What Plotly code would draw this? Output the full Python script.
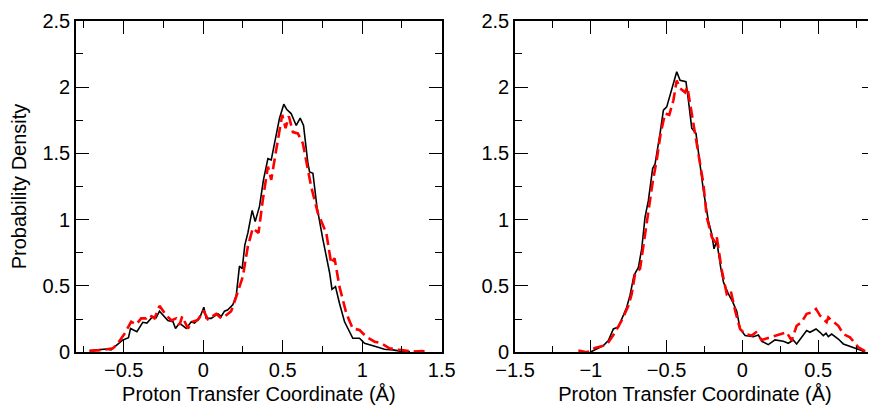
import plotly.graph_objects as go

# Left panel data
left_black_x = [-0.715, -0.61, -0.58, -0.505, -0.47, -0.457, -0.417, -0.38, -0.354, -0.317, -0.296, -0.275,
                -0.222, -0.19, -0.174, -0.149, -0.107, -0.075, -0.055, -0.023, 0.004, 0.019, 0.05, 0.092,
                0.113, 0.134, 0.155, 0.187, 0.208, 0.228, 0.245, 0.262, 0.281, 0.308, 0.327, 0.354, 0.379,
                0.407, 0.428, 0.455, 0.48, 0.507, 0.526, 0.553, 0.585, 0.61, 0.631, 0.658, 0.669, 0.69,
                0.715, 0.753, 0.795, 0.81, 0.832, 0.857, 0.889, 0.941, 0.983, 1.015, 1.057, 1.10, 1.14,
                1.193, 1.256, 1.30]
left_black_y = [0.013, 0.025, 0.018, 0.093, 0.11, 0.18, 0.156, 0.226, 0.22, 0.27, 0.26, 0.31,
                0.24, 0.23, 0.18, 0.22, 0.18, 0.23, 0.22, 0.256, 0.34, 0.256, 0.256, 0.29,
                0.27, 0.31, 0.32, 0.36, 0.43, 0.65, 0.63, 0.81, 0.90, 1.07, 0.985, 1.10, 1.30,
                1.46, 1.45, 1.60, 1.765, 1.87, 1.83, 1.80, 1.71, 1.765, 1.71, 1.43, 1.36, 1.35,
                1.10, 0.85, 0.60, 0.475, 0.495, 0.37, 0.23, 0.106, 0.106, 0.068, 0.055, 0.038, 0.023,
                0.018, 0.005, 0.005]

left_red_x = [-0.715, -0.63, -0.568, -0.537, -0.495, -0.453, -0.421, -0.39, -0.358, -0.338, -0.306, -0.275,
              -0.233, -0.2, -0.17, -0.149, -0.132, -0.096, -0.069, -0.034, 0.002, 0.029, 0.082, 0.113,
              0.145, 0.176, 0.208, 0.249, 0.281, 0.312, 0.348, 0.375, 0.407, 0.428, 0.459, 0.497,
              0.518, 0.539, 0.564, 0.595, 0.627, 0.679, 0.721, 0.774, 0.805, 0.826, 0.857, 0.90,
              0.94, 0.983, 1.025, 1.078, 1.12, 1.172, 1.235, 1.32, 1.38, 1.40]
left_red_y = [0.01, 0.018, 0.03, 0.068, 0.14, 0.23, 0.21, 0.256, 0.256, 0.28, 0.256, 0.35,
              0.28, 0.24, 0.256, 0.206, 0.27, 0.18, 0.23, 0.244, 0.314, 0.25, 0.29, 0.256,
              0.28, 0.31, 0.42, 0.57, 0.80, 0.935, 0.90, 1.15, 1.40, 1.30, 1.525, 1.79,
              1.69, 1.78, 1.66, 1.65, 1.575, 1.25, 1.05, 0.90, 0.67, 0.71, 0.495, 0.294,
              0.18, 0.168, 0.118, 0.08, 0.068, 0.03, 0.018, 0.005, 0.01, 0.0]

# Right panel data
right_black_x = [-1.005, -0.961, -0.917, -0.884, -0.851, -0.818, -0.796, -0.763, -0.741, -0.715, -0.686,
                 -0.664, -0.642, -0.62, -0.592, -0.576, -0.543, -0.521, -0.499, -0.477, -0.455, -0.433,
                 -0.411, -0.372, -0.356, -0.334, -0.306, -0.279, -0.257, -0.224, -0.202, -0.187, -0.169,
                 -0.143, -0.125, -0.092, -0.064, -0.037, -0.015, 0.018, 0.073, 0.106, 0.128, 0.171,
                 0.215, 0.27, 0.303, 0.336, 0.358, 0.391, 0.424, 0.446, 0.486, 0.512, 0.534, 0.552,
                 0.567, 0.589, 0.633, 0.666, 0.699, 0.732, 0.754, 0.787, 0.81]
right_black_y = [0.0, 0.025, 0.05, 0.088, 0.176, 0.19, 0.25, 0.34, 0.43, 0.58, 0.64,
                 0.78, 1.02, 1.145, 1.385, 1.42, 1.65, 1.825, 1.85, 1.94, 2.01, 2.115,
                 2.05, 2.04, 1.90, 1.69, 1.65, 1.42, 1.22, 0.99, 0.89, 0.78, 0.84,
                 0.64, 0.53, 0.44, 0.38, 0.31, 0.176, 0.126, 0.118, 0.13, 0.083, 0.058,
                 0.093, 0.083, 0.068, 0.093, 0.063, 0.113, 0.164, 0.151, 0.176, 0.151, 0.126, 0.144,
                 0.118, 0.138, 0.10, 0.063, 0.05, 0.038, 0.025, 0.013, 0.0]

right_red_x = [-1.082, -1.027, -0.972, -0.917, -0.884, -0.84, -0.796, -0.774, -0.752, -0.73, -0.708,
               -0.675, -0.653, -0.62, -0.592, -0.565, -0.539, -0.51, -0.482, -0.455, -0.433, -0.411,
               -0.378, -0.363, -0.341, -0.312, -0.29, -0.257, -0.235, -0.202, -0.18, -0.169, -0.136,
               -0.103, -0.077, -0.048, -0.015, 0.018, 0.062, 0.09, 0.128, 0.183, 0.226, 0.259, 0.292,
               0.325, 0.358, 0.391, 0.424, 0.457, 0.486, 0.512, 0.534, 0.556, 0.567, 0.589, 0.633,
               0.666, 0.71, 0.743, 0.765, 0.81]
right_red_y = [0.013, 0.0, 0.033, 0.05, 0.075, 0.15, 0.24, 0.29, 0.35, 0.44, 0.59,
               0.63, 0.806, 1.03, 1.28, 1.45, 1.65, 1.80, 1.79, 1.90, 2.05, 1.99,
               1.96, 2.0, 1.85, 1.62, 1.50, 1.27, 1.02, 0.87, 0.83, 0.87, 0.62,
               0.44, 0.466, 0.315, 0.176, 0.138, 0.126, 0.151, 0.093, 0.113, 0.126, 0.138, 0.151,
               0.088, 0.2, 0.227, 0.29, 0.30, 0.327, 0.277, 0.25, 0.227, 0.264, 0.24, 0.20,
               0.138, 0.113, 0.063, 0.038, 0.008]

x_title = "Proton Transfer Coordinate (Å)"
y_title = "Probability Density"

FONT = "Liberation Sans, Arial, Helvetica, sans-serif"

fig = go.Figure()
black_line = dict(color="black", width=1.6)
red_line = dict(color="#ff0000", width=2.6, dash="11px,5px")

fig.add_trace(go.Scatter(x=left_black_x, y=left_black_y, mode="lines", line=black_line,
                         xaxis="x", yaxis="y", showlegend=False))
fig.add_trace(go.Scatter(x=left_red_x, y=left_red_y, mode="lines", line=red_line,
                         xaxis="x", yaxis="y", showlegend=False))
fig.add_trace(go.Scatter(x=right_black_x, y=right_black_y, mode="lines", line=black_line,
                         xaxis="x2", yaxis="y2", showlegend=False))
fig.add_trace(go.Scatter(x=right_red_x, y=right_red_y, mode="lines", line=red_line,
                         xaxis="x2", yaxis="y2", showlegend=False))

W, H = 876, 407
OFF = 8  # default page body margin
axis_common = dict(
    showline=True, linecolor="black", linewidth=1.6, mirror="allticks",
    ticks="inside", ticklen=13, tickwidth=1.2, tickcolor="black",
    showgrid=False, zeroline=False,
    tickfont=dict(family=FONT, size=20, color="black"),
    automargin=False,
)
minor = dict(dtick=0.25, ticklen=7, ticks="inside", tickcolor="black", tickwidth=1.2)

ydom = [1 - (352.3 - OFF) / H, 1 - (20.7 - OFF) / H]

fig.update_layout(
    width=W, height=H,
    margin=dict(l=0, r=0, t=0, b=0),
    paper_bgcolor="white", plot_bgcolor="white",
    font=dict(family=FONT, size=20, color="black"),
    xaxis=dict(domain=[(76 - OFF) / W, (441.7 - OFF) / W], range=[-0.8, 1.5], dtick=0.5, tick0=0,
               minor=minor, ticklabelstandoff=-1,
               title=dict(text=x_title, font=dict(family=FONT, size=20), standoff=7),
               anchor="y", **axis_common),
    yaxis=dict(domain=ydom, range=[0, 2.5], dtick=0.5, tick0=0, minor=minor,
               title=dict(text=y_title, font=dict(family=FONT, size=20), standoff=10),
               anchor="x", **axis_common),
    xaxis2=dict(domain=[(515 - OFF) / W, (875 - OFF) / W], range=[-1.5, 0.875], dtick=0.5, tick0=0,
                minor=minor, ticklabelstandoff=-1,
                title=dict(text=x_title, font=dict(family=FONT, size=20), standoff=7),
                anchor="y2", **axis_common),
    yaxis2=dict(domain=ydom, range=[0, 2.5], dtick=0.5, tick0=0, minor=minor,
                anchor="x2", **axis_common),
)

fig.write_html("out.html")
